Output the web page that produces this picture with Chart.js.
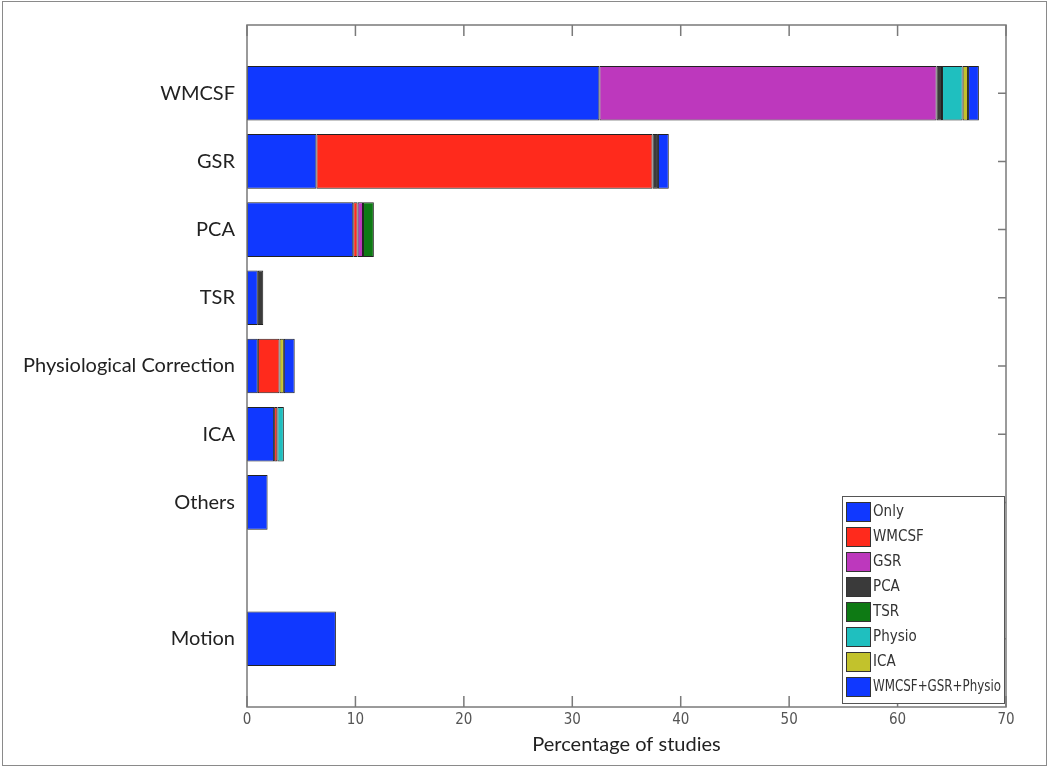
<!DOCTYPE html>
<html>
<head>
<meta charset="utf-8">
<script src="https://cdn.jsdelivr.net/npm/chart.js@4.4.1/dist/chart.umd.min.js"></script>
<style>
  body { margin: 0; background: #fff; }
  #frame { position: absolute; left: 2px; top: 1px; width: 1043px; height: 763px; border: 1.5px solid #8a8a8a; }
  canvas { position: absolute; left: 0; top: 0; }
</style>
</head>
<body>
<div id="frame"></div>
<canvas id="chartMethods" width="1050" height="769"></canvas>
<script>
// rows top to bottom, '' is the empty slot above Motion
const categories = ['WMCSF', 'GSR', 'PCA', 'TSR', 'Physiological Correction', 'ICA', 'Others', '', 'Motion'];
const seriesNames = ['Only', 'WMCSF', 'GSR', 'PCA', 'TSR', 'Physio', 'ICA', 'WMCSF+GSR+Physio'];
const xTicks = [0, 10, 20, 30, 40, 50, 60, 70];

const only   = [32.5, 6.4, 9.8, 1.0, 1.0, 2.5, 1.9, null, 8.2];
const wmcsf  = [null, 31.0, 0.4, null, 2.0, 0.3, null, null, null];
const gsr    = [31.1, null, 0.5, null, null, null, null, null, null];
const pca    = [0.5, 0.5, null, 0.5, null, null, null, null, null];
const tsr    = [null, null, 1.0, null, null, null, null, null, null];
const physio = [1.9, null, null, null, null, 0.6, null, null, null];
const ica    = [0.5, null, null, null, 0.4, null, null, null, null];
const combo  = [1.0, 1.0, null, null, 1.0, null, null, null, null];

const colors = ['#1038ff', '#ff2a1c', '#bd38bd', '#3a3a3a', '#0e7a14', '#1fbfbf', '#c2c22c', '#1038ff'];
const series = [only, wmcsf, gsr, pca, tsr, physio, ica, combo];

// pad with an empty label on each end so the rows sit like the original axis
const labels = [''].concat(categories, ['']);

const narrow = "'DejaVu Sans Condensed', 'Liberation Sans Narrow', sans-serif";
const labelFont = "Lato, 'Open Sans', sans-serif";

const boxTicks = {
  id: 'boxTicks',
  afterDatasetsDraw(chart) {
    const ctx = chart.ctx;
    const a = chart.chartArea;
    const x = chart.scales.x, y = chart.scales.y;
    ctx.save();
    ctx.strokeStyle = '#7a7a7a';
    ctx.lineWidth = 1.5;
    ctx.strokeRect(a.left, a.top, a.right - a.left, a.bottom - a.top);
    ctx.beginPath();
    x.ticks.forEach((t, i) => {
      const px = x.getPixelForTick(i);
      ctx.moveTo(px, a.bottom); ctx.lineTo(px, a.bottom - 11);
      ctx.moveTo(px, a.top); ctx.lineTo(px, a.top + 11);
    });
    y.ticks.forEach((t, i) => {
      if (!labels[t.value]) return;
      const py = y.getPixelForTick(i);
      ctx.moveTo(a.right, py); ctx.lineTo(a.right - 8, py);
    });
    ctx.stroke();

    // legend box inside the plot, lower right
    const lx = a.right - 164, ly = a.bottom - 211, lw = 162, lh = 207;
    ctx.fillStyle = '#fff';
    ctx.fillRect(lx, ly, lw, lh);
    ctx.lineWidth = 1;
    ctx.strokeStyle = '#555';
    ctx.strokeRect(lx + 0.5, ly + 0.5, lw, lh);
    ctx.font = '15px ' + narrow;
    ctx.textBaseline = 'middle';
    chart.data.datasets.forEach((ds, i) => {
      const cy = ly + 16 + i * 25;
      ctx.fillStyle = ds.backgroundColor;
      ctx.fillRect(lx + 4, cy - 10, 25, 20);
      ctx.strokeStyle = '#333';
      ctx.strokeRect(lx + 4.5, cy - 9.5, 24, 19);
      ctx.fillStyle = '#333';
      ctx.fillText(ds.label, lx + 31, cy, 128);
    });
    ctx.restore();
  }
};

new Chart(document.getElementById('chartMethods'), {
  type: 'bar',
  data: {
    labels: labels,
    datasets: series.map((vals, i) => ({
      label: seriesNames[i],
      data: [null].concat(vals, [null]),
      backgroundColor: colors[i],
      borderColor: '#222',
      borderWidth: 1,
      borderSkipped: false,
      barPercentage: 0.8,
      categoryPercentage: 1
    }))
  },
  options: {
    indexAxis: 'y',
    responsive: false,
    animation: false,
    layout: { padding: { top: 25, right: 44, left: 0, bottom: 0 } },
    plugins: { legend: { display: false }, tooltip: { enabled: false } },
    scales: {
      x: {
        stacked: true,
        min: xTicks[0],
        max: xTicks[xTicks.length - 1],
        afterBuildTicks: (s) => { s.ticks = xTicks.map(v => ({ value: v })); },
        afterFit: (s) => { s.height = 62; },
        grid: { display: false, drawTicks: false },
        border: { display: false },
        ticks: {
          padding: 4,
          color: '#555',
          font: { family: narrow, size: 15 }
        },
        title: {
          display: true,
          text: 'Percentage of studies',
          color: '#222',
          padding: 12,
          font: { family: labelFont, size: 20 }
        }
      },
      y: {
        stacked: true,
        offset: false,
        afterFit: (s) => { s.width = 247; },
        grid: { display: false, drawTicks: false },
        border: { display: false },
        ticks: {
          padding: 12,
          autoSkip: false,
          color: '#222',
          font: { family: labelFont, size: 20 }
        }
      }
    }
  },
  plugins: [boxTicks]
});
</script>
</body>
</html>
